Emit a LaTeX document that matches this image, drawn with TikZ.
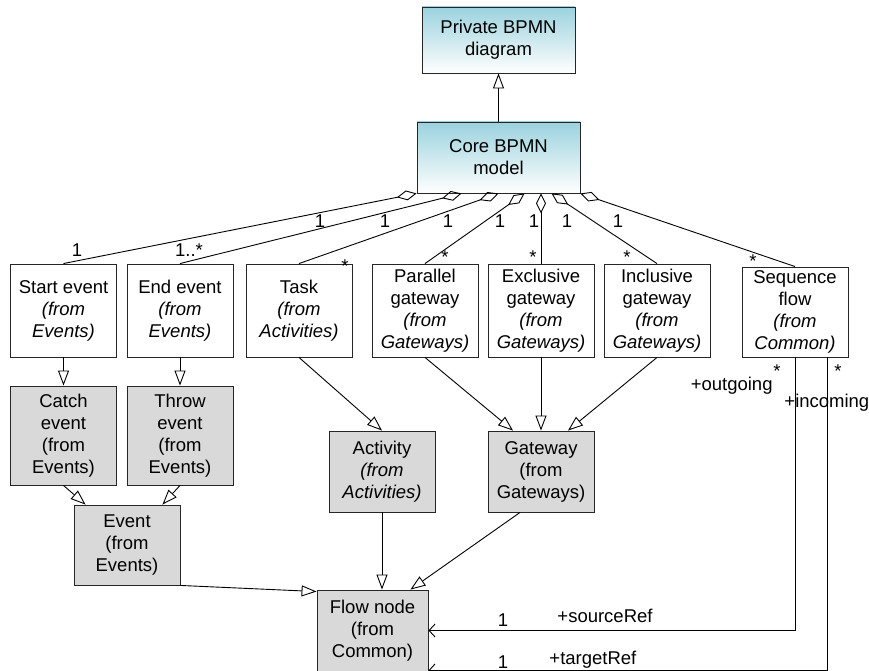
\documentclass[tikz,border=0pt]{standalone}
\usepackage{fontspec}
\setmainfont{Liberation Sans}
\usetikzlibrary{arrows.meta}
\definecolor{bpmnblue}{RGB}{155,210,222}
\definecolor{absgray}{RGB}{217,217,217}

\begin{document}
\begin{tikzpicture}[x=1pt,y=-1pt,line width=0.9pt,
  cls/.style={draw=black!85,align=center,inner sep=0pt,minimum width=106pt,
    font=\fontsize{18.5}{22}\selectfont},
  abstr/.style={cls,fill=absgray},
  pkg/.style={cls,top color=bpmnblue,bottom color=white},
  lbl/.style={inner sep=0pt,anchor=base,font=\fontsize{18.5}{22}\selectfont},
  gen/.style={-{Triangle[open,length=15pt,width=11pt]}},
  agg/.style={{Diamond[open,length=20pt,width=10pt]}-},
  nav/.style={-{Straight Barb[length=6pt,width=13pt]}}]
\useasboundingbox (0,0) rectangle (869,671);

% top packages
\node[pkg,minimum width=153pt,minimum height=66pt] (priv) at (498.5,40) {Private BPMN\\diagram};
\node[pkg,minimum width=163pt,minimum height=71pt] (core) at (498.5,157.5) {Core BPMN\\model};
\draw[gen] (core) -- (priv);

% row of concrete classes
\node[cls,minimum height=93pt] (start) at (63.5,310.5) {Start event\\\textit{(from}\\\textit{Events)}};
\node[cls,minimum height=93pt] (endev) at (180,310.5) {End event\\\textit{(from}\\\textit{Events)}};
\node[cls,minimum height=93pt] (task) at (299,310.5) {Task\\\textit{(from}\\\textit{Activities)}};
\node[cls,minimum height=93pt] (par) at (425,310.5) {Parallel\\gateway\\\textit{(from}\\\textit{Gateways)}};
\node[cls,minimum height=93pt] (excl) at (541,310.5) {Exclusive\\gateway\\\textit{(from}\\\textit{Gateways)}};
\node[cls,minimum height=93pt] (incl) at (657,310.5) {Inclusive\\gateway\\\textit{(from}\\\textit{Gateways)}};
\node[cls,minimum height=90pt] (seq) at (795,312) {Sequence\\flow\\\textit{(from}\\\textit{Common)}};

% abstract classes
\node[abstr,minimum height=99pt] (catch) at (63.5,435.5) {Catch\\event\\(from\\Events)};
\node[abstr,minimum height=99pt] (throw) at (180,435.5) {Throw\\event\\(from\\Events)};
\node[abstr,minimum height=81pt] (act) at (382,471.5) {Activity\\\textit{(from}\\\textit{Activities)}};
\node[abstr,minimum height=81pt] (gw) at (541,471.5) {Gateway\\(from\\Gateways)};
\node[abstr,minimum height=80pt] (event) at (127,545) {Event\\(from\\Events)};
\node[abstr,minimum width=111pt,minimum height=81pt] (flow) at (372.5,630.5) {Flow node\\(from\\Common)};

% aggregations from the core model
\draw[agg] (core.south west) -- (start.north);
\draw[agg] ([xshift=45pt]core.south west) -- (endev.north);
\draw[agg] (core.south) -- (task.north);
\draw[agg] ([xshift=108pt]core.south west) -- (par.north);
\draw[agg] (excl.north |- core.south) -- (excl.north);
\draw[agg] ([xshift=135pt]core.south west) -- (incl.north);
\draw[agg] (core.south east) -- (seq.north);

\node[lbl] (m1) at (320,227) {1};
\node[lbl] (m2) at (385,227) {1};
\node[lbl] (m3) at (448,227) {1};
\node[lbl] (m4) at (500,227) {1};
\node[lbl] (m5) at (534,227) {1};
\node[lbl] (m6) at (567,227) {1};
\node[lbl] (m7) at (618,227) {1};
\node[lbl] (n1) at (77,256) {1};
\node[lbl] (n2) at (189,256) {1..*};
\node[lbl] (n3) at (345,272) {*};
\node[lbl] (n4) at (445,263) {*};
\node[lbl] (n5) at (533,263) {*};
\node[lbl] (n6) at (627,263) {*};
\node[lbl] (n7) at (753,267) {*};

% generalizations
\draw[gen] (start) -- (catch);
\draw[gen] (endev) -- (throw);
\draw[gen] (task.south) -- (act.north);
\draw[gen] (par.south) -- ([xshift=-28pt]gw.north);
\draw[gen] (excl) -- (gw);
\draw[gen] (incl.south) -- ([xshift=27pt]gw.north);
\draw[gen] (catch.south) -- ([xshift=12pt]event.north west);
\draw[gen] (throw.south) -- ([xshift=-18pt]event.north east);
\draw[gen] (event.south east) -- ([yshift=-2pt]flow.north west);
\draw[gen] (act.south) -- (act.south |- flow.north);
\draw[gen] ([xshift=-21pt]gw.south) -- ([xshift=-18pt]flow.north east);

% source and target of a sequence flow
\draw[nav] (seq.south) |- (flow.east);
\draw[nav] ([xshift=32pt]seq.south) |- ([yshift=1pt]flow.south east);
\node[lbl] (o1) at (777,377) {*};
\node[lbl] (o2) at (838,377) {*};
\node[lbl,anchor=base east] (out) at (773,390) {+outgoing};
\node[lbl,anchor=base west] (inc) at (784,407) {+incoming};
\node[lbl] (s1) at (503,626) {1};
\node[lbl,anchor=base west] (src) at (557,622) {+sourceRef};
\node[lbl] (t1) at (503,668) {1};
\node[lbl,anchor=base west] (tgt) at (549,664) {+targetRef};
\end{tikzpicture}
\end{document}
